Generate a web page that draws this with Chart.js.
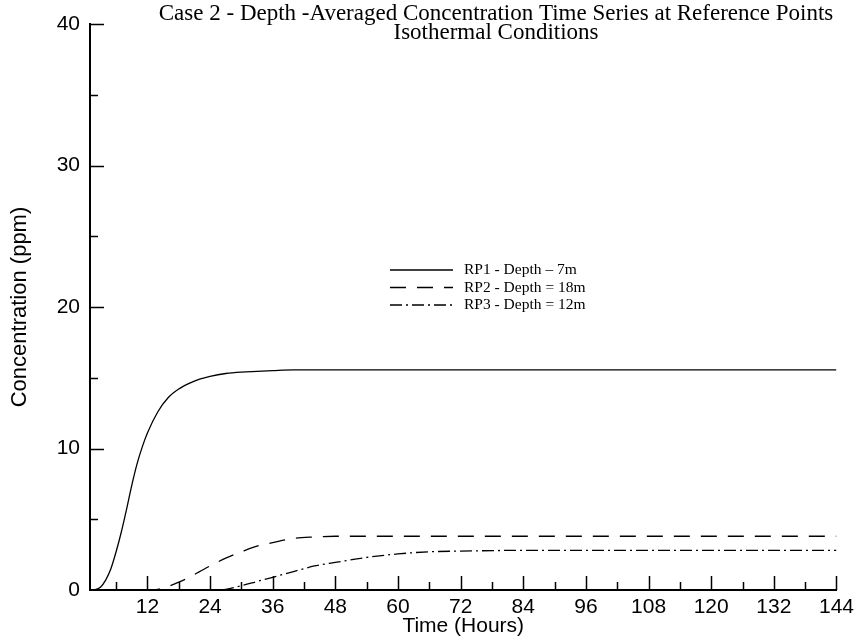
<!DOCTYPE html>
<html>
<head>
<meta charset="utf-8">
<script src="https://cdn.jsdelivr.net/npm/chart.js@4.4.1/dist/chart.umd.min.js"></script>
<style>
  html, body { margin: 0; padding: 0; background: #fff; }
  #wrap { width: 859px; height: 640px; }
</style>
</head>
<body>
<div id="wrap"><canvas id="chart" width="859" height="640"></canvas></div>
<script>
// time in hours, shared by the three reference points
const hours = [1, 2, 3, 4, 5, 6, 7, 8, 9, 10, 11, 12, 14, 16, 18, 20, 22, 24, 27, 30, 33, 36, 40, 44, 48, 54, 60, 66, 72, 84, 96, 108, 120, 132, 144];
const rp1 = [0, 0.03, 0.2, 0.7, 1.5, 2.7, 4.1, 5.7, 7.4, 8.9, 10.1, 11.1, 12.6, 13.6, 14.2, 14.6, 14.9, 15.1, 15.3, 15.4, 15.45, 15.5, 15.55, 15.55, 15.55, 15.55, 15.55, 15.55, 15.55, 15.55, 15.55, 15.55, 15.55, 15.55, 15.55];
const rp2 = [0, 0, 0, 0, 0, 0, 0, 0, 0, 0, 0, 0, 0.05, 0.25, 0.55, 0.9, 1.3, 1.7, 2.25, 2.7, 3.1, 3.35, 3.65, 3.75, 3.8, 3.8, 3.8, 3.8, 3.8, 3.8, 3.8, 3.8, 3.8, 3.8, 3.8];
const rp3 = [0, 0, 0, 0, 0, 0, 0, 0, 0, 0, 0, 0, 0, 0, 0, 0, 0, 0, 0.05, 0.3, 0.6, 0.9, 1.3, 1.7, 1.95, 2.3, 2.55, 2.7, 2.75, 2.8, 2.8, 2.8, 2.8, 2.8, 2.8];

const seriesNames = ['RP1 - Depth \u2013 7m', 'RP2 - Depth = 18m', 'RP3 - Depth = 12m'];
const xTicks = [12, 24, 36, 48, 60, 72, 84, 96, 108, 120, 132, 144];
const yTicks = [0, 10, 20, 30, 40];
const titleLines = ['Case 2 - Depth -Averaged Concentration Time Series at Reference Points', 'Isothermal Conditions'];

const dashes = [[], [16, 11], [12, 4, 2, 4]];

const sans = '"Liberation Sans", Arial, sans-serif';
const serif = '"Liberation Serif", "Times New Roman", serif';

function toPoints(vals) {
  return hours.map((h, i) => ({ x: h, y: vals[i] }));
}

// inward tick marks, title and legend drawn on the canvas
const decor = {
  id: 'decor',
  afterDraw(chart) {
    const { ctx, chartArea, scales } = chart;
    const x = scales.x, y = scales.y;
    ctx.save();
    ctx.strokeStyle = '#000';
    ctx.lineWidth = 1.5;
    ctx.beginPath();
    for (let v = 6; v <= 144; v += 6) {
      const px = Math.round(x.getPixelForValue(v)) + 0.5;
      const len = v % 12 === 0 ? 14 : 8;
      ctx.moveTo(px, chartArea.bottom);
      ctx.lineTo(px, chartArea.bottom - len);
    }
    for (let v = 5; v <= 40; v += 5) {
      const py = Math.round(y.getPixelForValue(v)) + 0.5;
      const len = v % 10 === 0 ? 14 : 8;
      ctx.moveTo(chartArea.left, py);
      ctx.lineTo(chartArea.left + len, py);
    }
    ctx.stroke();

    // title
    ctx.fillStyle = '#000';
    ctx.font = '23px ' + serif;
    ctx.textAlign = 'center';
    ctx.textBaseline = 'middle';
    ctx.fillText(titleLines[0], 496, 14);
    ctx.fillText(titleLines[1], 496, 33);

    // legend
    ctx.font = '15.5px ' + serif;
    ctx.textAlign = 'left';
    chart.data.datasets.forEach((ds, i) => {
      const ly = 270 + i * 17.5;
      ctx.beginPath();
      ctx.lineWidth = 1.3;
      ctx.setLineDash(ds.borderDash || []);
      ctx.moveTo(390, ly);
      ctx.lineTo(453, ly);
      ctx.stroke();
      ctx.setLineDash([]);
      ctx.fillText(ds.label, 464, ly);
    });
    ctx.restore();
  }
};

new Chart(document.getElementById('chart'), {
  type: 'line',
  data: {
    datasets: [0, 1, 2].map(i => ({
      label: seriesNames[i],
      data: toPoints([rp1, rp2, rp3][i]),
      borderColor: '#000',
      borderWidth: 1.3,
      borderDash: dashes[i],
      pointRadius: 0,
      fill: false,
      cubicInterpolationMode: 'monotone'
    }))
  },
  options: {
    responsive: false,
    animation: false,
    layout: { padding: { left: 0, top: 24, right: 19, bottom: 0 } },
    plugins: {
      legend: { display: false },
      tooltip: { enabled: false }
    },
    scales: {
      x: {
        type: 'linear',
        min: 1,
        max: 144,
        afterFit(s) { s.height = 50; },
        afterBuildTicks(s) { s.ticks = xTicks.map(v => ({ value: v })); },
        grid: { display: false, drawTicks: false },
        border: { display: true, color: '#000', width: 2 },
        ticks: {
          color: '#000',
          padding: 5,
          maxRotation: 0,
          autoSkip: false,
          font: { family: sans, size: 21 }
        },
        title: {
          display: true,
          text: 'Time (Hours)',
          color: '#000',
          padding: { top: 0, bottom: 1 },
          font: { family: sans, size: 21 }
        }
      },
      y: {
        type: 'linear',
        min: 0,
        max: 40,
        afterFit(s) { s.width = 90; },
        afterBuildTicks(s) { s.ticks = yTicks.map(v => ({ value: v })); },
        grid: { display: false, drawTicks: false },
        border: { display: true, color: '#000', width: 2 },
        ticks: {
          color: '#000',
          padding: 10,
          font: { family: sans, size: 21 }
        },
        title: {
          display: true,
          text: 'Concentration (ppm)',
          color: '#000',
          padding: { top: 7, bottom: 0 },
          font: { family: sans, size: 22 }
        }
      }
    }
  },
  plugins: [decor]
});
</script>
</body>
</html>
